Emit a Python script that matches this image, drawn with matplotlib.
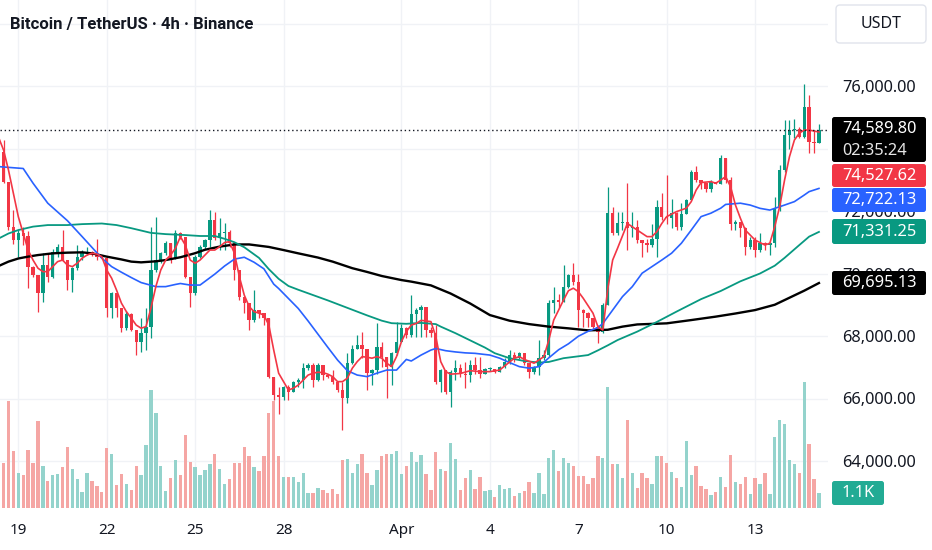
import numpy as np
import matplotlib
matplotlib.use("Agg")
import matplotlib.pyplot as plt
import matplotlib.transforms as mtransforms
from matplotlib.patches import FancyBboxPatch

plt.rcParams['font.family'] = ['Noto Sans', 'DejaVu Sans']

# ---- data (4h candles, index 0 = Mar 19 00:00) ----
first_candle = -4
first_open = 74485

closes = [
    73900, 72940, 71500, 71070, 71290, 71200, 70220, 69950, 69370, 70270,   # -4..5
    69900, 70700, 70860, 70430, 69790, 70170, 70540, 70650, 70700, 70590,   # 6..15
    70540, 70490, 68890, 69370, 68890, 68250, 68700, 68190, 67820, 68090,   # 16..25
    68300, 70110, 70430, 70650, 70970, 70490, 71290, 71180, 69900, 69370,   # 26..35
    70540, 70850, 71070, 71710, 71130, 71290, 71340, 70970, 70110, 69260,   # 36..45
    69050, 68510, 68830, 68730, 68570, 66700, 66110, 66060, 66380, 66220,   # 46..55
    66540, 66600, 66970, 67070, 66590, 67070, 66750, 66700, 66540, 66270,   # 56..65
    66010, 67130, 67600, 67710, 67600, 66810, 66900, 67660, 67340, 67020,   # 66..75
    67450, 67820, 68250, 68030, 68700, 68830, 68940, 68190, 68090, 66540,   # 76..85
    66910, 66220, 66860, 66970, 66800, 66750, 67070, 66910, 66800, 66930,   # 86..95
    66950, 66860, 67020, 67180, 67390, 67290, 67450, 67130, 66860, 67020,   # 96..105
    67290, 67390, 69050, 69150, 69100, 69580, 69950, 69740, 68830, 68730,   # 106..115
    68570, 68300, 68140, 68990, 71930, 71290, 71610, 71660, 71450, 71500,   # 116..125
    71070, 70970, 70910, 71120, 72140, 71820, 71790, 71930, 71500, 71900,   # 126..135
    72350, 73260, 72990, 72890, 72720, 72940, 72880, 73690, 72990, 71600,   # 136..145
    71660, 71450, 70860, 71070, 70750, 70970, 70900, 70970, 72090, 73310,   # 146..155
    74430, 74590, 74610, 74380, 75340, 74220, 74170, 74589.80,             # 156..163
]

highs = [
    74550, 74270, 72940, 72030, 71390, 71500, 71350, 70250, 69950, 70650,
    70650, 70800, 70960, 71390, 70430, 70200, 70910, 70750, 70860, 70720,
    71120, 70560, 70490, 69400, 69370, 68900, 68800, 68750, 68190, 68570,
    68890, 71500, 71820, 70700, 71050, 70970, 71390, 71340, 71180, 69900,
    70600, 70900, 71100, 72030, 71980, 71770, 71610, 71390, 70970, 70110,
    69260, 69050, 69470, 68830, 68730, 68570, 66700, 66380, 66400, 66430,
    66560, 66650, 67130, 67130, 67130, 67130, 66910, 66800, 66910, 66540,
    66540, 67450, 67710, 68030, 68140, 67600, 66950, 68410, 67820, 67340,
    67500, 68460, 68400, 68300, 69310, 68900, 68990, 68940, 68300, 68350,
    66950, 66910, 66900, 67230, 67120, 67180, 67230, 67340, 67340, 66990,
    67000, 66960, 67050, 67290, 67550, 67500, 67500, 67450, 67130, 67050,
    67870, 67550, 69150, 69580, 69350, 70270, 70000, 70330, 70000, 68850,
    68780, 68570, 68350, 69050, 72780, 72140, 71980, 71980, 72890, 71980,
    71710, 71070, 71100, 71600, 72350, 72570, 73150, 72400, 71980, 72250,
    72400, 73310, 73440, 72990, 72890, 72990, 72940, 73790, 73690, 73100,
    71700, 71660, 71500, 71180, 71180, 71290, 71020, 71000, 72460, 73470,
    74910, 74910, 74960, 74700, 76060, 75710, 74590, 74800,
]

lows = [
    73850, 72900, 71390, 70960, 70540, 70900, 69530, 69900, 68780, 69100,
    69740, 69850, 70540, 70400, 69470, 69420, 70100, 70430, 70600, 70550,
    70430, 70450, 68620, 68570, 68620, 68140, 68200, 68150, 67390, 67500,
    67550, 67930, 70050, 70350, 70600, 70330, 70450, 71100, 69850, 68940,
    69300, 70500, 70800, 70860, 71070, 70750, 70750, 70860, 69790, 69150,
    68730, 68190, 68450, 68570, 68350, 66650, 65950, 65520, 65950, 65950,
    66200, 66380, 66330, 66900, 66380, 66550, 66590, 66650, 66480, 66220,
    64990, 65850, 67100, 67600, 67290, 66270, 66430, 66800, 67020, 66010,
    66430, 67400, 67800, 67950, 67980, 67980, 67980, 67980, 67980, 66480,
    66220, 66160, 65740, 66590, 66700, 66330, 66540, 66800, 66650, 66850,
    66880, 66820, 66850, 66990, 67100, 67180, 67250, 67070, 66650, 66800,
    66750, 67230, 67340, 68730, 68900, 69100, 69550, 69630, 68300, 68300,
    68300, 68190, 67770, 68100, 68990, 71230, 71230, 71390, 70750, 71180,
    70970, 70540, 70700, 70860, 70540, 71710, 71600, 71450, 71400, 71400,
    71980, 72350, 72940, 72720, 72620, 72620, 72850, 72850, 72890, 71390,
    71400, 71180, 70590, 70800, 70540, 70700, 70750, 70590, 70860, 72000,
    73250, 74000, 74330, 74330, 74330, 73850, 73850, 74170,
]

volumes_k = [
    2.3, 3.3, 7.9, 4.2, 2.6, 2.4, 4.3, 3.3, 6.4, 3.1,
    2.0, 2.4, 2.5, 3.0, 4.5, 2.9, 2.1, 1.2, 2.6, 2.0,
    1.6, 1.2, 4.4, 4.0, 1.7, 2.5, 1.8, 1.3, 3.1, 2.4,
    4.6, 8.7, 7.0, 3.1, 1.25, 2.2, 3.5, 2.4, 5.4, 3.4,
    3.0, 2.4, 2.8, 3.2, 4.0, 2.9, 1.8, 2.1, 3.3, 3.3,
    4.5, 3.8, 3.0, 2.7, 3.8, 7.0, 7.9, 3.8, 2.3, 2.3,
    2.3, 1.9, 2.6, 1.1, 1.1, 1.5, 1.3, 1.1, 1.4, 1.0,
    3.5, 3.6, 2.6, 3.2, 4.0, 2.6, 1.7, 2.8, 3.8, 4.0,
    4.0, 4.2, 2.5, 3.1, 4.1, 3.4, 3.9, 2.5, 1.3, 4.1,
    2.9, 2.7, 4.8, 3.6, 1.3, 2.2, 2.8, 1.4, 2.3, 1.25,
    1.3, 0.8, 1.7, 1.4, 1.5, 0.9, 1.1, 1.25, 1.9, 1.1,
    2.6, 1.0, 3.7, 4.3, 2.7, 3.7, 3.3, 3.1, 2.35, 2.35,
    1.8, 2.2, 3.8, 3.7, 8.9, 3.2, 3.2, 2.2, 6.5, 2.55,
    1.5, 2.55, 2.2, 1.8, 3.8, 3.85, 3.3, 2.65, 2.2, 1.55,
    4.9, 2.4, 3.1, 1.6, 1.4, 0.95, 1.15, 2.3, 1.55, 3.9,
    1.9, 1.75, 2.3, 1.0, 2.2, 1.8, 2.6, 1.0, 5.2, 6.45,
    6.15, 3.5, 3.2, 2.6, 9.3, 4.7, 2.1, 1.1,
]

# moving averages (candle index, price)
ma_fast_k = [-4, -3, -2, -1, 0, 1, 2, 3, 4, 5, 6, 7, 8, 9, 10, 11, 12, 13, 14, 15,
             16, 17, 18, 19, 20, 21, 22, 23, 24, 25, 26, 27, 28, 29, 30, 31, 32, 33, 34, 35,
             36, 37, 38, 39, 40, 41, 42, 43, 44, 45, 46, 47, 48, 49, 50, 51, 52, 53, 54, 55,
             56, 57, 58, 59, 60, 61, 62, 63, 64, 65, 66, 67, 68, 69, 70, 71, 72, 73, 74, 75,
             76, 77, 78, 79, 80, 81, 82, 84, 85, 86, 87, 88, 90, 92, 94, 96, 98, 99, 101, 102,
             103, 105, 107, 108, 109, 111, 112, 113, 114, 115, 117, 118, 119, 120, 121, 122, 124, 126, 128, 129,
             130, 131, 132, 134, 136, 137, 138, 139, 141, 142, 143, 144, 145, 146, 147, 148, 150, 152, 153, 154,
             155, 156, 157, 158, 159, 160, 161, 163]
ma_fast = [74350, 73950, 73310, 72560, 71820, 71290, 70750, 70430, 70170, 70060, 70060, 70220, 70380, 70430, 70270, 70220, 70330, 70490, 70590, 70650,
           70620, 70540, 70110, 69850, 69470, 69050, 68780, 68570, 68350, 68250, 68300, 68890, 69580, 70110, 70430, 70590, 70810, 71180, 70910, 70430,
           70330, 70430, 70590, 70750, 70750, 70860, 70990, 71020, 70650, 69900, 69310, 68940, 68780, 68730, 68670, 68350, 67550, 66810, 66540, 66270,
           66330, 66430, 66590, 66750, 66810, 66840, 66830, 66780, 66700, 66540, 66540, 66650, 66970, 67180, 67340, 67320, 67290, 67340, 67290, 67130,
           67020, 67340, 67820, 68140, 68350, 68400, 68500, 68460, 67980, 67180, 66860, 66780, 66800, 66890, 66860, 66860, 66910, 67040, 67290, 67340,
           67250, 67130, 67340, 67870, 68510, 69150, 69450, 69530, 69420, 69210, 68730, 68300, 68190, 69500, 70430, 70810, 71600, 71390, 71180, 71180,
           71340, 71600, 71820, 71980, 72090, 72300, 72670, 72910, 72940, 72890, 72990, 73100, 72780, 72190, 71770, 71390, 71070, 70910, 70970, 71500,
           72140, 72990, 73740, 74270, 74490, 74590, 74590, 74527.62]

ma_mid_k = [-4, 1, 3, 6, 10, 13, 17, 19, 21, 23, 25, 28, 30, 32, 33, 35, 37, 40, 42, 44,
            46, 48, 50, 52, 53, 55, 57, 59, 61, 63, 65, 67, 69, 71, 73, 75, 77, 79, 80, 82,
            84, 85, 87, 89, 91, 93, 96, 98, 100, 102, 104, 106, 108, 110, 112, 114, 116, 118, 119, 121,
            123, 125, 127, 129, 131, 133, 135, 137, 139, 141, 143, 144, 147, 149, 151, 153, 154, 156, 158, 160,
            161, 163]
ma_mid = [73420, 73360, 72890, 72250, 71690, 71180, 70490, 70220, 70040, 69870, 69710, 69580, 69580, 69650, 69680, 69630, 69630, 69980, 70240, 70460,
          70520, 70360, 70150, 69660, 69520, 69200, 68880, 68480, 68060, 67640, 67230, 66890, 66750, 66700, 66810, 66910, 66910, 67250, 67200, 67390,
          67550, 67600, 67530, 67490, 67460, 67445, 67390, 67290, 67150, 67020, 66970, 67020, 67300, 67560, 67750, 67990, 68150, 68270, 68400, 68830,
          69260, 69580, 70010, 70220, 70430, 70650, 70970, 71390, 71820, 71930, 72090, 72210, 72250, 72190, 72085, 72030, 72085, 72190, 72300, 72510,
          72620, 72722.13]

ma_slow_k = [-4, -2, 0, 3, 6, 10, 13, 17, 20, 23, 27, 30, 34, 37, 40, 42, 44, 46, 49, 51,
             53, 55, 57, 60, 63, 65, 68, 71, 74, 76, 79, 82, 85, 86, 89, 92, 95, 97, 100, 103,
             106, 108, 111, 114, 116, 118, 120, 122, 126, 130, 134, 137, 139, 143, 147, 151, 154, 156, 159, 161,
             163]
ma_slow = [71120, 71280, 71390, 71500, 71550, 71550, 71580, 71600, 71550, 71450, 71300, 71260, 71230, 71200, 71200, 71110, 71000, 70840, 70500, 70140,
           69830, 69600, 69480, 69310, 69140, 69020, 68840, 68660, 68490, 68410, 68390, 68420, 68380, 68300, 68090, 67860, 67630, 67450, 67290, 67200,
           67150, 67170, 67290, 67350, 67390, 67540, 67700, 67870, 68140, 68450, 68780, 69020, 69180, 69440, 69750, 70000, 70250, 70500, 70910, 71180,
           71331.25]

ma_long_k = [-4, -2, 0, 2, 4, 7, 10, 13, 15, 18, 21, 23, 25, 28, 30, 33, 36, 38, 41, 44,
             47, 51, 54, 57, 61, 64, 68, 71, 74, 78, 80, 82, 84, 88, 92, 96, 100, 104, 108, 112,
             116, 120, 123, 126, 132, 137, 142, 146, 150, 154, 156, 160, 163]
ma_long = [70240, 70380, 70480, 70540, 70590, 70645, 70667, 70677, 70645, 70540, 70450, 70380, 70357, 70390, 70430, 70520, 70650, 70760, 70860, 70930,
           70930, 70850, 70750, 70645, 70510, 70380, 70170, 70050, 69920, 69790, 69740, 69680, 69620, 69360, 69040, 68670, 68490, 68380, 68300, 68245,
           68180, 68200, 68300, 68370, 68405, 68510, 68620, 68720, 68830, 69000, 69150, 69450, 69695.13]

price_ticks = [64000, 66000, 68000, 70000, 72000, 74000, 76000, 78000]
hidden_price_labels = [74000, 78000]   # fully covered by the value boxes
day_ticks = [0, 18, 36, 54, 78, 96, 114, 132, 150]
day_labels = ['19', '22', '25', '28', 'Apr', '4', '7', '10', '13']
countdown = '02:35:24'

# ---- styling ----
W, H = 932, 550
GREEN = '#089981'
RED = '#F23645'
BLUE = '#2962FF'
VOL_GREEN = '#94D3CC'
VOL_RED = '#F5A6A4'
GRID = '#F0F2F6'
TXT = '#131722'
FS = 11.8

x = np.arange(len(closes)) + first_candle
closes = np.array(closes, dtype=float)
opens = np.concatenate([[first_open], closes[:-1]])
highs = np.maximum(np.array(highs, dtype=float), np.maximum(opens, closes))
lows = np.minimum(np.array(lows, dtype=float), np.minimum(opens, closes))
up = closes >= opens
last_price = closes[-1]

fig = plt.figure(figsize=(W / 100, H / 100), dpi=100)
rect = [0, 42 / H, 828 / W, 508 / H]
xlim = (-18.3 / 4.912, (828 - 18.3) / 4.912)
ylim = (76000 - (508 - 86) * 32, 76000 + 86 * 32)

ax_vol = fig.add_axes(rect)
ax = fig.add_axes(rect)
ax.patch.set_visible(False)
ax.set_xlim(*xlim)
ax.set_ylim(*ylim)
ax_vol.set_xlim(*xlim)
ax_vol.set_ylim(0, 508 / 13.6)

# grid on the bottom layer
for k in day_ticks:
    ax_vol.axvline(k, color=GRID, lw=1, zorder=0)
blend = mtransforms.blended_transform_factory(ax_vol.transAxes, ax.transData)
for p in price_ticks:
    ax_vol.plot([0, 1], [p, p], color=GRID, lw=1, transform=blend, zorder=0)

# volume
ax_vol.bar(x, volumes_k, width=0.68, color=[VOL_GREEN if u else VOL_RED for u in up], zorder=1)
ax_vol.axis('off')

# candles
colors = [GREEN if u else RED for u in up]
ax.vlines(x, lows, highs, colors=colors, lw=0.9, zorder=2)
body_low = np.minimum(opens, closes)
body_h = np.maximum(np.abs(closes - opens), 32)
ax.bar(x, body_h, bottom=body_low, width=0.68, color=colors, zorder=3)

# moving averages
ax.plot(ma_long_k, ma_long, color='#000000', lw=1.7, zorder=4)
ax.plot(ma_slow_k, ma_slow, color=GREEN, lw=1.3, zorder=4)
ax.plot(ma_mid_k, ma_mid, color=BLUE, lw=1.2, zorder=4)
ax.plot(ma_fast_k, ma_fast, color=RED, lw=1.2, zorder=5)

# last price line
ax.axhline(last_price, color=TXT, lw=1, ls=(0, (1, 2)), zorder=6)

# axes
for s in ax.spines.values():
    s.set_visible(False)
ax.set_xticks(day_ticks, day_labels)
ax.set_yticks(price_ticks, ['' if p in hidden_price_labels else f'{p:,.2f}' for p in price_ticks])
ax.tick_params(axis='x', length=0, pad=11, labelsize=11, labelcolor=TXT)
ax.tick_params(axis='y', length=0, pad=10, labelsize=FS, labelcolor=TXT,
               left=False, labelleft=False, right=True, labelright=True)
for lbl in ax.get_xticklabels():
    if lbl.get_text() == 'Apr':
        lbl.set_fontweight('bold')
for lbl in ax.get_yticklabels():
    lbl.set_horizontalalignment('left')


def box(x0, y0, x1, y1, face, edge=None, r=2.5):
    patch = FancyBboxPatch((x0, H - y1), x1 - x0, y1 - y0,
                           boxstyle=f'round,pad=0,rounding_size={r}',
                           transform=mtransforms.IdentityTransform(),
                           facecolor=face, edgecolor=edge if edge else face,
                           lw=1 if edge else 0, zorder=5)
    fig.add_artist(patch)


def label(xp, yp, s, color='white', ha='left', size=FS):
    fig.text(xp / W, 1 - yp / H, s, color=color, ha=ha, va='center', fontsize=size, zorder=6)


box(836, 5, 926, 43, 'white', edge='#E0E3EB', r=4)
label(881, 24, 'USDT', color=TXT, ha='center', size=11.5)

box(832, 117, 926, 162, '#000000')
label(842, 129, f'{last_price:,.2f}')
label(842, 151, countdown, color='#E6E6E6')

box(832, 164, 926, 187, RED)
label(842, 175.5, f'{ma_fast[-1]:,.2f}')
box(832, 188, 926, 212, BLUE)
label(842, 200, f'{ma_mid[-1]:,.2f}')
box(832, 219, 926, 244, GREEN)
label(842, 231.5, f'{ma_slow[-1]:,.2f}')
box(832, 271, 926, 295, '#000000')
label(842, 283, f'{ma_long[-1]:,.2f}')

box(832, 481, 884, 505, '#22AB94')
label(858, 493, f'{volumes_k[-1]:.1f}K', ha='center')

fig.text(10 / W, 1 - 24 / H, 'Bitcoin / TetherUS · 4h · Binance', fontsize=12,
         fontweight='bold', color=TXT, va='center', family=['Roboto', 'DejaVu Sans'])

fig.savefig('out.png', dpi=100, facecolor='white')
